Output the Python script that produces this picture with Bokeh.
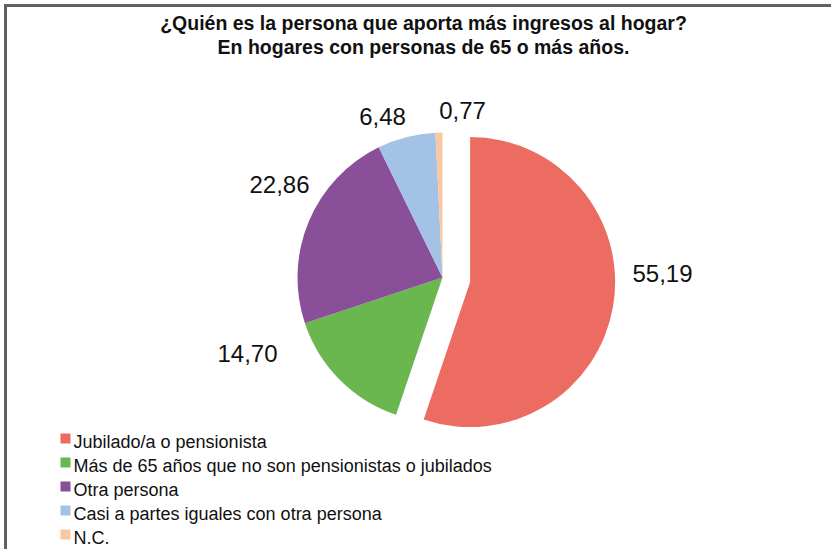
import math
from bokeh.plotting import figure
from bokeh.models import Range1d, ColumnDataSource
from bokeh.core.properties import value
from bokeh.embed import file_html
from bokeh.resources import INLINE

# ---- data ----
categories = [
    "Jubilado/a o pensionista",
    "Más de 65 años que no son pensionistas o jubilados",
    "Otra persona",
    "Casi a partes iguales con otra persona",
    "N.C.",
]
values = [55.19, 14.70, 22.86, 6.48, 0.77]
value_labels = ["55,19", "14,70", "22,86", "6,48", "0,77"]
colors = ["#ED6C62", "#6AB750", "#894F99", "#A3C2E6", "#FAC8A0"]
title_lines = [
    "¿Quién es la persona que aporta más ingresos al hogar?",
    "En hogares con personas de 65 o más años.",
]

# ---- layout (screen-pixel helpers) ----
W, H = 831, 549
def px(x):
    return x
def py(y):
    return H - y

FONT = "Liberation Sans"
cx, cy = px(442), py(277)
R = 145
EXPLODE = [28, 0, 0, 0, 0]
label_pos = [(662, 273), (247, 353), (279, 184), (382, 116), (462, 110)]

p = figure(width=W, height=H, output_backend="svg", toolbar_location=None,
           x_range=Range1d(0, W), y_range=Range1d(0, H), min_border=0,
           outline_line_color=None, background_fill_color="white",
           border_fill_color="white")
p.xaxis.visible = False
p.yaxis.visible = False
p.grid.visible = False

# ---- pie ----
total = sum(values)
starts, ends, xs, ys = [], [], [], []
cum = 0.0
for v, e in zip(values, EXPLODE):
    a0 = math.pi / 2 - 2 * math.pi * cum / total
    cum += v
    a1 = math.pi / 2 - 2 * math.pi * cum / total
    mid = (a0 + a1) / 2
    starts.append(a0)
    ends.append(a1)
    xs.append(cx + e * math.cos(mid))
    ys.append(cy + e * math.sin(mid))

src = ColumnDataSource(dict(x=xs, y=ys, start=starts, end=ends, color=colors))
p.wedge(x="x", y="y", radius=R, start_angle="start", end_angle="end",
        direction="clock", fill_color="color", line_color=None, source=src)

lsrc = ColumnDataSource(dict(x=[px(a) for a, b in label_pos],
                             y=[py(b) for a, b in label_pos],
                             t=value_labels))
p.text(x="x", y="y", text="t", source=lsrc, text_font=value(FONT),
       text_font_size="24px", text_align="center", text_baseline="middle",
       text_color="#111111")

# ---- title ----
p.text(x=[px(423), px(423)], y=[py(22), py(46)], text=title_lines,
       text_font=value(FONT), text_font_size="19.5px", text_font_style="bold",
       text_align="center", text_baseline="middle", text_color="#111111")

# ---- legend ----
row_y = [441, 465, 489, 513, 537]
p.rect(x=[px(65)] * 5, y=[py(r - 3) for r in row_y], width=10, height=10,
       fill_color=colors, line_color=None)
p.text(x=[px(73)] * 5, y=[py(r) for r in row_y], text=categories,
       text_font=value(FONT), text_font_size="18px", text_align="left",
       text_baseline="middle", text_color="#111111")

# ---- frame border (left and top) ----
p.segment(x0=[px(5), px(3.5)], y0=[0, py(5)], x1=[px(5), W], y1=[py(3.5), py(5)],
          line_color="#606060", line_width=3)

open("out.html", "w").write(file_html(p, INLINE))
